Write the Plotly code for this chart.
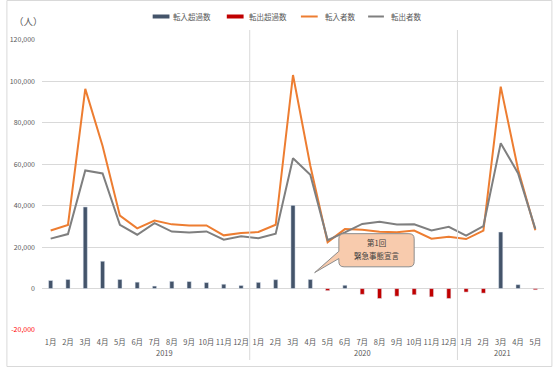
import plotly.graph_objects as go

# ---------------- data ----------------
months = ["1月", "2月", "3月", "4月", "5月", "6月", "7月", "8月", "9月", "10月", "11月", "12月",
          "1月", "2月", "3月", "4月", "5月", "6月", "7月", "8月", "9月", "10月", "11月", "12月",
          "1月", "2月", "3月", "4月", "5月"]
years = ["2019", "2020", "2021"]
moved_in = [28000, 30700, 96400, 68800, 35200, 29100, 32800, 31000, 30500, 30500, 25700, 26800,
            27300, 30800, 103100, 59300, 22400, 28700, 28400, 27400, 27200, 28000, 24100, 25000,
            23900, 28000, 97500, 57600, 28200]
moved_out = [24100, 26300, 57000, 55600, 30800, 26000, 31600, 27500, 27100, 27600, 23600, 25300,
             24300, 26500, 62900, 54900, 23400, 27100, 31200, 32200, 30900, 31000, 28100, 29800,
             25600, 30200, 70200, 55700, 28800]
net = [3900, 4400, 39400, 13200, 4400, 3100, 1200, 3500, 3400, 2900, 2100, 1500,
       3000, 4300, 40200, 4400, -1000, 1600, -2800, -4800, -3700, -3000, -4000, -4800,
       -1700, -2200, 27300, 1900, -600]
y_ticks = [-20000, 0, 20000, 40000, 60000, 80000, 100000, 120000]

NAVY = "#44546A"
RED = "#C00000"
ORANGE = "#ED7D31"
GRAY = "#7F7F7F"
TXT = "#595959"
GRID = "#D9D9D9"
FONT = "Noto Sans CJK JP"

W, H = 554, 368
ML, MR, MT, MB = 36, 10, 40, 38
PW, PH = W - ML - MR, H - MT - MB


def px(x):
    return (x - ML) / PW


def py(y):
    return (H - MB - y) / PH


xs = list(range(len(months)))
net_in = [v if v > 0 else None for v in net]
net_out = [v if v < 0 else None for v in net]

fig = go.Figure()
fig.add_trace(go.Bar(x=xs, y=net_in, name="転入超過数", marker_color=NAVY, width=0.24,
                     showlegend=False))
fig.add_trace(go.Bar(x=xs, y=net_out, name="転出超過数", marker_color=RED, width=0.24,
                     showlegend=False))
fig.add_trace(go.Scatter(x=xs, y=moved_in, name="転入者数", mode="lines",
                         line=dict(color=ORANGE, width=2), showlegend=False))
fig.add_trace(go.Scatter(x=xs, y=moved_out, name="転出者数", mode="lines",
                         line=dict(color=GRAY, width=2), showlegend=False))

shapes = []
annotations = []

# outer border
shapes.append(dict(type="rect", xref="paper", yref="paper", x0=px(0.5), x1=px(552),
                   y0=py(366.5), y1=py(0.5), line=dict(color=GRID, width=1), layer="below"))

# year separators
for xv in [11.5, 23.5]:
    shapes.append(dict(type="line", xref="x", yref="paper", x0=xv, x1=xv,
                       y0=py(360), y1=py(30), line=dict(color=GRID, width=1)))

# year labels
for label, xv in zip(years, [6.57, 18.0, 26.1]):
    annotations.append(dict(x=xv, y=py(352), xref="x", yref="paper", text=label,
                            showarrow=False, font=dict(size=7.5, color=TXT, family=FONT),
                            xanchor="center", yanchor="middle"))

# unit label
annotations.append(dict(x=px(22), y=py(21), xref="paper", yref="paper", text="（人）",
                        showarrow=False, font=dict(size=9.5, color=TXT, family=FONT),
                        xanchor="center", yanchor="middle"))

# manual legend
legend_items = [
    ("転入超過数", NAVY, "bar", 148, 165, 167),
    ("転出超過数", RED, "bar", 223, 240, 243),
    ("転入者数", ORANGE, "line", 298, 315, 320),
    ("転出者数", GRAY, "line", 366, 382, 387),
]
for name, color, kind, a, b, t in legend_items:
    if kind == "bar":
        shapes.append(dict(type="rect", xref="paper", yref="paper", x0=px(a), x1=px(b),
                           y0=py(18.5), y1=py(14.5), fillcolor=color, line=dict(width=0)))
    else:
        shapes.append(dict(type="line", xref="paper", yref="paper", x0=px(a), x1=px(b),
                           y0=py(16.5), y1=py(16.5), line=dict(color=color, width=2)))
    annotations.append(dict(x=px(t), y=py(16.5), xref="paper", yref="paper", text=name,
                            showarrow=False, font=dict(size=7.5, color=TXT, family=FONT),
                            xanchor="left", yanchor="middle"))

# callout
x0, x1, y0, y1 = 16.65, 21.0, 10500, 26500
rx, ry = 0.3, 2500
tipx, tipy = 15.25, 7700
tb1, tb2 = 18000, 14500
path = (f"M {x0+rx},{y1} L {x1-rx},{y1} Q {x1},{y1} {x1},{y1-ry} "
        f"L {x1},{y0+ry} Q {x1},{y0} {x1-rx},{y0} L {x0+rx},{y0} Q {x0},{y0} {x0},{y0+ry} "
        f"L {x0},{tb2} L {tipx},{tipy} L {x0},{tb1} L {x0},{y1-ry} Q {x0},{y1} {x0+rx},{y1} Z")
shapes.append(dict(type="path", xref="x", yref="y", path=path, fillcolor="#F8CBAD",
                   line=dict(color="#8C8C8C", width=1), layer="above"))
annotations.append(dict(x=(x0 + x1) / 2, y=22200, xref="x", yref="y", text="第1回",
                        showarrow=False, font=dict(size=7.5, color="#404040", family=FONT)))
annotations.append(dict(x=(x0 + x1) / 2, y=15900, xref="x", yref="y", text="緊急事態宣言",
                        showarrow=False, font=dict(size=7.5, color="#404040", family=FONT)))

tick_text = []
for v in y_ticks:
    s = f"{v:,}"
    if v < 0:
        s = f'<span style="color:#FF0000">{s}</span>'
    tick_text.append(s)

fig.update_layout(
    width=W, height=H,
    margin=dict(l=ML, r=MR, t=MT, b=MB),
    paper_bgcolor="white", plot_bgcolor="white",
    barmode="overlay",
    font=dict(family=FONT, size=8, color=TXT),
    shapes=shapes, annotations=annotations,
    showlegend=False,
    xaxis=dict(range=[-0.5, len(months) - 0.5], tickmode="array", tickvals=xs, ticktext=months,
               showgrid=False, zeroline=False, showline=False, ticks="", tickangle=0,
               tickfont=dict(size=7.5, color=TXT, family=FONT), ticklabelstandoff=6),
    yaxis=dict(range=[-20000, 120000], tickmode="array", tickvals=y_ticks, ticktext=tick_text,
               showgrid=True, gridcolor=GRID, gridwidth=1, zeroline=True, zerolinecolor=GRID,
               zerolinewidth=1, showline=False, ticks="",
               tickfont=dict(size=7, color=TXT, family=FONT), ticklabelstandoff=6),
)

fig.write_html("out.html")
